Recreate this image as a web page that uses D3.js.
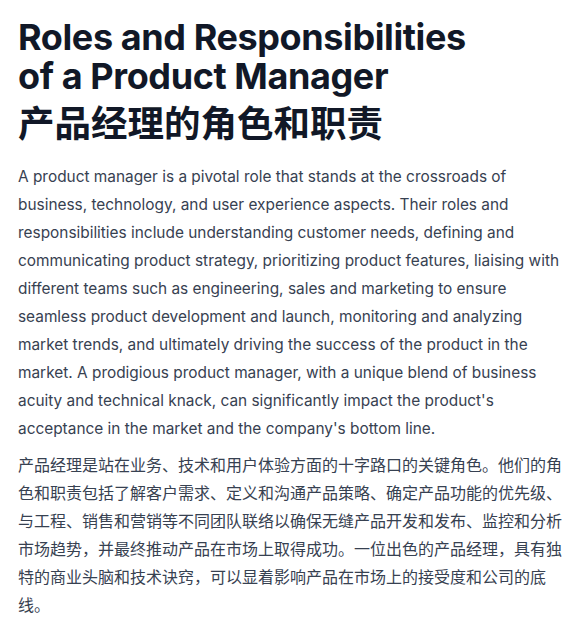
<!DOCTYPE html>
<html>
<head>
<meta charset="utf-8">
<script src="https://cdn.jsdelivr.net/npm/d3@7"></script>
<style>
  body { margin: 0; background: #fff; }
</style>
</head>
<body>
<div id="page"></div>
<script>
const titleLines = [
  "Roles and Responsibilities",
  "of a Product Manager",
  "产品经理的角色和职责"
];

const englishLines = [
  "A product manager is a pivotal role that stands at the crossroads of",
  "business, technology, and user experience aspects. Their roles and",
  "responsibilities include understanding customer needs, defining and",
  "communicating product strategy, prioritizing product features, liaising with",
  "different teams such as engineering, sales and marketing to ensure",
  "seamless product development and launch, monitoring and analyzing",
  "market trends, and ultimately driving the success of the product in the",
  "market. A prodigious product manager, with a unique blend of business",
  "acuity and technical knack, can significantly impact the product's",
  "acceptance in the market and the company's bottom line."
];

const chineseLines = [
  "产品经理是站在业务、技术和用户体验方面的十字路口的关键角色。他们的角",
  "色和职责包括了解客户需求、定义和沟通产品策略、确定产品功能的优先级、",
  "与工程、销售和营销等不同团队联络以确保无缝产品开发和发布、监控和分析",
  "市场趋势，并最终推动产品在市场上取得成功。一位出色的产品经理，具有独",
  "特的商业头脑和技术诀窍，可以显着影响产品在市场上的接受度和公司的底",
  "线。"
];

const width = 579, height = 635, left = 18;
const font = "Inter, 'Noto Sans CJK SC', sans-serif";

const svg = d3.select("#page")
  .append("svg")
  .attr("width", width)
  .attr("height", height);

// title: two English lines and the Chinese line
const titleY = [50, 89, 137];
svg.selectAll("text.title")
  .data(titleLines)
  .enter()
  .append("text")
  .attr("class", "title")
  .attr("x", left)
  .attr("y", (d, i) => titleY[i])
  .attr("font-family", font)
  .attr("font-weight", 700)
  .attr("font-size", (d, i) => i < 2 ? "36px" : "36.5px")
  .attr("letter-spacing", (d, i) => i < 2 ? "-0.4px" : "0px")
  .attr("fill", "#111827")
  .text(d => d);

// English paragraph
svg.selectAll("text.en")
  .data(englishLines)
  .enter()
  .append("text")
  .attr("class", "en")
  .attr("x", left)
  .attr("y", (d, i) => 182 + i * 28)
  .attr("font-family", font)
  .attr("font-size", "15.4px")
  .attr("fill", "#374151")
  .text(d => d);

// Chinese paragraph
svg.selectAll("text.zh")
  .data(chineseLines)
  .enter()
  .append("text")
  .attr("class", "zh")
  .attr("x", left)
  .attr("y", (d, i) => 471 + i * 28)
  .attr("font-family", "'Noto Sans CJK SC', sans-serif")
  .attr("font-size", "16px")
  .attr("fill", "#374151")
  .text(d => d);
</script>
</body>
</html>
